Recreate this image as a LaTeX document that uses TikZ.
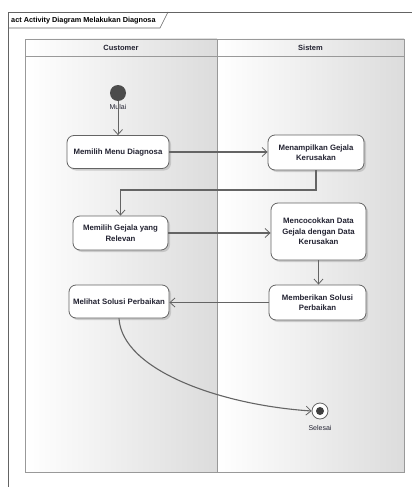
\documentclass[tikz,border=0pt]{standalone}
\usepackage{fontspec}
\setmainfont{Liberation Sans}
\usetikzlibrary{arrows.meta,shadows,calc}
\definecolor{lanegray}{RGB}{220,220,220}
\definecolor{linegray}{RGB}{100,100,100}
\definecolor{txt}{RGB}{35,35,50}
\tikzset{
  act/.style={draw=linegray,line width=0.8pt,rounded corners=7pt,fill=white,align=center,
    font=\bfseries\fontsize{7.8}{10.5}\selectfont,text=txt,inner sep=3pt,
    drop shadow={shadow xshift=2pt,shadow yshift=-2pt,fill=gray!60,opacity=0.6}},
  flow/.style={draw=linegray,line width=1.1pt,-{Straight Barb[length=5pt,width=9pt,line width=0.8pt]}},
  lbl/.style={font=\fontsize{7}{8}\selectfont,text=txt},
  lane/.style={left color=white,right color=lanegray,draw=linegray,line width=0.7pt},
}
\begin{document}
\begin{tikzpicture}[x=1pt,y=-1pt]
\useasboundingbox (0,0) rectangle (412,487);
\fill[white] (0,0) rectangle (412,487);
% outer frame
\draw[linegray,line width=0.8pt] (8,487) -- (8,12) -- (412,12);
\draw[linegray,line width=0.6pt] (8,28) -- (160,28) -- (168,12);
\node[anchor=west,font=\bfseries\fontsize{7.3}{8}\selectfont,inner sep=0pt] (title) at (11,20.5) {act Activity Diagram Melakukan Diagnosa};
% lanes
\fill[lane,draw=none] (25,56) rectangle (217,472);
\fill[lane,draw=none] (217,56) rectangle (404,472);
\fill[left color=white,right color=lanegray] (25,39) rectangle (217,56);
\fill[left color=white,right color=lanegray] (217,39) rectangle (404,56);
\draw[gray!80,line width=0.8pt] (25,39) rectangle (404,472);
\draw[gray!80,line width=0.8pt] (217,39) -- (217,472);
\draw[gray!80,line width=0.6pt] (25,56) -- (404,56);
\node[font=\bfseries\fontsize{7.5}{8}\selectfont,text=txt] (hc) at (121,47.5) {Customer};
\node[font=\bfseries\fontsize{7.5}{8}\selectfont,text=txt] (hs) at (310.5,47.5) {Sistem};
% start
\node[circle,fill=black!70,minimum size=16pt,inner sep=0pt] (start) at (118,93) {};
\node[lbl] (mulai) at (118,107) {Mulai};
% activities
\node[act,minimum width=102pt,minimum height=33pt] (a1) at (118,152) {Memilih Menu Diagnosa};
\node[act,minimum width=96pt,minimum height=35pt] (a2) at (316,152.5) {Menampilkan Gejala\\Kerusakan};
\node[act,minimum width=95pt,minimum height=34pt] (a3) at (120.5,233) {Memilih Gejala yang\\Relevan};
\node[act,minimum width=95pt,minimum height=57pt] (a4) at (318.5,231.5) {Mencocokkan Data\\Gejala dengan Data\\Kerusakan};
\node[act,minimum width=97pt,minimum height=35pt] (a5) at (317.5,302.5) {Memberikan Solusi\\Perbaikan};
\node[act,minimum width=100pt,minimum height=33pt] (a6) at (119,301.5) {Melihat Solusi Perbaikan};
% end
\node[circle,draw=linegray,line width=0.8pt,fill=white,minimum size=16pt,inner sep=0pt] (end) at (320,411) {};
\fill[black!75] (end.center) circle (4pt);
\node[lbl] (selesai) at (320,428) {Selesai};
% flows
\draw[flow,line width=0.7pt] (start) -- (a1);
\draw[flow] (a1.east) -- (a2.west |- a1.east);
\draw[flow] (a2.south) -- (316,190) -- (120.5,190) -- (a3.north);
\draw[flow] (a3.east) -- (a4.west |- a3.east);
\draw[flow] (a4.south) -- ($(a5.north)+(1,0)$);
\draw[flow] (a5.west) -- (a6.east |- a5.west);
\draw[flow] (a6.south) .. controls (122,370) and (220,405) .. (end.west);
\end{tikzpicture}
\end{document}
